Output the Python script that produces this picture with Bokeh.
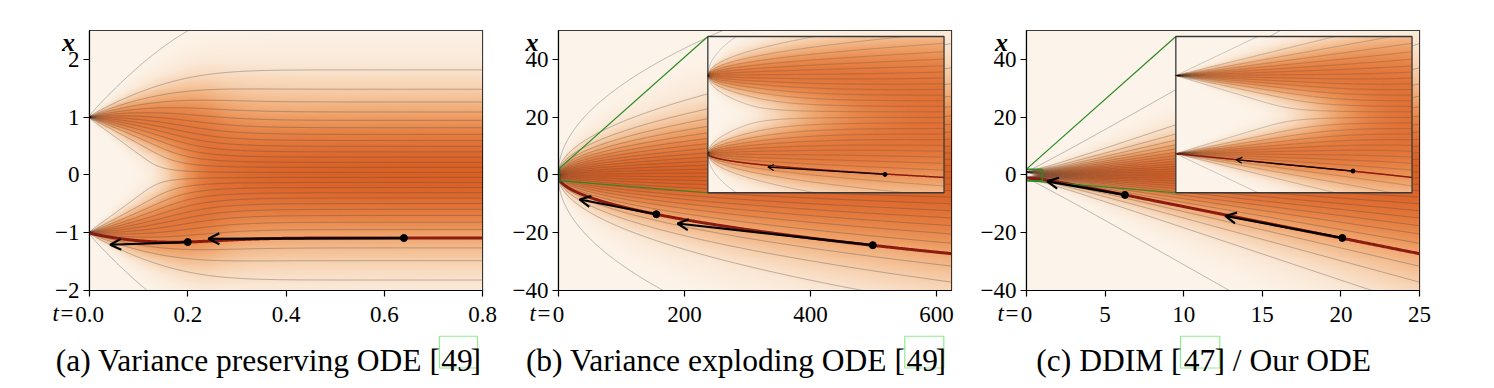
import numpy as np
from bokeh.plotting import figure
from bokeh.layouts import row, column
from bokeh.models import (Range1d, FixedTicker, LinearColorMapper, Label, Arrow,
                          OpenHead, ColumnDataSource)
from bokeh.core.properties import value
from bokeh.embed import file_html
from bokeh.resources import INLINE

# ---------------- data ----------------
# data distribution: two Dirac peaks
PEAKS = [-1.0, 1.0]
PEAK_WEIGHTS = [0.5, 0.5]
# probability levels of the drawn ODE trajectories
FLOW_LEVELS = [0.001, 0.0345, 0.0690, 0.1034, 0.1379, 0.1724, 0.2069, 0.2414, 0.2759,
               0.3103, 0.3448, 0.3793, 0.4138, 0.4483, 0.4828, 0.5172, 0.5517, 0.5862,
               0.6207, 0.6552, 0.6897, 0.7241, 0.7586, 0.7931, 0.8276, 0.8621, 0.8966,
               0.9310, 0.9655, 0.999]
HIGHLIGHT_LEVEL = 0.1379

# panel (a) VP
VP_T_RANGE = [0.0, 0.8]
VP_X_RANGE = [-2.0, 2.5]
VP_T_TICKS = [0.0, 0.2, 0.4, 0.6, 0.8]
VP_T_LABELS = ["0.0", "0.2", "0.4", "0.6", "0.8"]
VP_X_TICKS = [-2, -1, 0, 1, 2]
VP_X_LABELS = ["\u22122", "\u22121", "0", "1", "2"]
VP_DOT_T = [0.64, 0.20]
VP_DOT_X = [-1.092, -1.162]
VP_TIP_T = [0.242, 0.042]
VP_TIP_X = [-1.104, -1.208]

# panel (b) VE
VE_T_RANGE = [0.0, 624.0]
VE_X_RANGE = [-40.0, 50.0]
VE_T_TICKS = [0, 200, 400, 600]
VE_T_LABELS = ["0", "200", "400", "600"]
BIG_X_TICKS = [-40, -20, 0, 20, 40]
BIG_X_LABELS = ["\u221240", "\u221220", "0", "20", "40"]
VE_DOT_T = [499.0, 155.4]
VE_DOT_X = [-24.3, -13.6]
VE_TIP_T = [188.9, 33.4]
VE_TIP_X = [-16.8, -8.5]
VE_INSET_DOT_T = [0.75]
VE_INSET_DOT_X = [-1.53]
VE_INSET_TIP_T = [0.254]
VE_INSET_TIP_X = [-1.343]

# panel (c) DDIM
DD_T_RANGE = [0.0, 25.0]
DD_T_TICKS = [0, 5, 10, 15, 20, 25]
DD_T_LABELS = ["0", "5", "10", "15", "20", "25"]
DD_DOT_T = [20.09, 6.26]
DD_DOT_X = [-21.8, -6.9]
DD_TIP_T = [12.64, 1.32]
DD_TIP_X = [-14.2, -2.2]
DD_INSET_DOT_T = [0.75]
DD_INSET_DOT_X = [-1.445]
DD_INSET_TIP_T = [0.255]
DD_INSET_TIP_X = [-1.156]

# inset zoom window (data coords of the zoomed region)
INSET_T_RANGE = [0.0, 1.0]
INSET_X_RANGE = [-2.0, 2.0]

CAPTIONS = [("(a) Variance preserving ODE [", "49", "]"),
            ("(b) Variance exploding ODE [", "49", "]"),
            ("(c) DDIM [", "47", "] / Our ODE")]

# ---------------- styles ----------------
FONT = "Liberation Serif"
TICK_FS = "23px"
RED = "#8b1a10"
GREEN = "#2a8a22"
LINE_GRAY = "#505050"
NORM_GAMMA = 0.75

stops_v = [0.0, 0.15, 0.3, 0.45, 0.6, 0.75, 0.9, 1.0]
stops_c = [(252, 244, 234), (250, 232, 214), (247, 212, 180), (243, 186, 140),
           (238, 158, 100), (231, 131, 70), (224, 110, 50), (218, 96, 36)]
vv = np.linspace(0, 1, 256)
rr = np.interp(vv, stops_v, [c[0] for c in stops_c])
gg = np.interp(vv, stops_v, [c[1] for c in stops_c])
bb = np.interp(vv, stops_v, [c[2] for c in stops_c])
PALETTE = ["#%02x%02x%02x" % (int(round(a)), int(round(b)), int(round(c))) for a, b, c in zip(rr, gg, bb)]
CMAP = LinearColorMapper(palette=PALETTE, low=0.0, high=1.0)


# ---------------- model helpers ----------------
def sched(name, t):
    t = np.asarray(t, dtype=float)
    if name == "vp":
        sig = np.sqrt(np.expm1(0.5 * 19.9 * t ** 2 + 0.1 * t))
        sc = 1.0 / np.sqrt(1.0 + sig ** 2)
    elif name == "ve":
        sig = np.sqrt(t)
        sc = np.ones_like(t)
    else:
        sig = t.copy()
        sc = np.ones_like(t)
    return sig, sc


def erf(x):
    s = np.sign(x)
    a = np.abs(x)
    tt = 1.0 / (1.0 + 0.3275911 * a)
    y = 1.0 - (((((1.061405429 * tt - 1.453152027) * tt) + 1.421413741) * tt
                - 0.284496736) * tt + 0.254829592) * tt * np.exp(-a * a)
    return s * y


def phi(z):
    return 0.5 * (1.0 + erf(z / np.sqrt(2.0)))


def density(name, t0, t1, x0, x1, nt, nx):
    tc = t0 + (np.arange(nt) + 0.5) * (t1 - t0) / nt
    xc = x0 + (np.arange(nx) + 0.5) * (x1 - x0) / nx
    sig, sc = sched(name, tc)
    dx = (x1 - x0) / nx
    sd = np.sqrt((sig * sc) ** 2 + (0.5 * dx) ** 2)
    g = np.zeros((nx, nt))
    u = np.linspace(-1.6, 1.6, 1601)[:, None] * sc[None, :]
    gf = np.zeros((1601, nt))
    for mu, w in zip(PEAKS, PEAK_WEIGHTS):
        g += w * np.exp(-(xc[:, None] - sc[None, :] * mu) ** 2 / (2 * sd[None, :] ** 2))
        gf += w * np.exp(-(u - sc[None, :] * mu) ** 2 / (2 * sd[None, :] ** 2))
    return g / (gf.max(axis=0) ** NORM_GAMMA)[None, :]


def quantile_lines(name, t, levels):
    sig, sc = sched(name, t)
    sd = np.maximum(sig * sc, 1e-12)
    q = np.asarray(levels, dtype=float)[:, None]
    half = sc + 12 * sd + 1.0
    lo = np.tile(-half, (len(levels), 1))
    hi = np.tile(half, (len(levels), 1))
    for _ in range(80):
        mid = 0.5 * (lo + hi)
        F = np.zeros_like(mid)
        for mu, w in zip(PEAKS, PEAK_WEIGHTS):
            F += w * phi((mid - sc[None, :] * mu) / sd[None, :])
        below = F < q
        lo = np.where(below, mid, lo)
        hi = np.where(below, hi, mid)
    return 0.5 * (lo + hi)


def add_arrows(p, ts, xs, te, xe, lw, head):
    src = ColumnDataSource(dict(xs=ts, ys=xs, xe=te, ye=xe))
    p.add_layout(Arrow(end=OpenHead(size=head, line_width=lw, line_color="black"),
                       x_start="xs", y_start="ys", x_end="xe", y_end="ye",
                       line_width=lw, line_color="black", source=src))


def make_panel(name, trange, xrange_, tticks, tlabels, xticks, xlabels,
               dots, tips, inset, bl, br, x_off, first_half):
    p = figure(frame_width=393, frame_height=260,
               x_range=Range1d(*trange), y_range=Range1d(*xrange_),
               output_backend="svg", toolbar_location=None,
               min_border_left=bl, min_border_right=br, min_border_top=30,
               min_border_bottom=45, background_fill_color="white",
               border_fill_color="white")
    t0, t1 = trange
    x0, x1 = xrange_
    img = density(name, t0, t1, x0, x1, 420, 280)
    p.image(image=[img], x=t0, y=x0, dw=t1 - t0, dh=x1 - x0, color_mapper=CMAP)

    tg = t1 * np.linspace(0, 1, 700) ** 2
    X = quantile_lines(name, tg, FLOW_LEVELS)
    p.multi_line(xs=[tg] * len(FLOW_LEVELS), ys=list(X), line_color=LINE_GRAY,
                 line_alpha=0.37, line_width=1)
    Xr = quantile_lines(name, tg, [HIGHLIGHT_LEVEL])[0]
    p.line(tg, Xr, line_color=RED, line_width=3)
    add_arrows(p, dots[0], dots[1], tips[0], tips[1], 2.2, 11)
    p.scatter(dots[0], dots[1], size=7, color="black")

    if inset is not None:
        fx0, fx1, fy0, fy1, idots, itips = inset
        T0 = t0 + fx0 * (t1 - t0)
        T1 = t0 + fx1 * (t1 - t0)
        X0 = x0 + fy0 * (x1 - x0)
        X1 = x0 + fy1 * (x1 - x0)
        it0, it1 = INSET_T_RANGE
        ix0, ix1 = INSET_X_RANGE

        def tr_t(v):
            return T0 + (np.asarray(v) - it0) / (it1 - it0) * (T1 - T0)

        def tr_x(v):
            return X0 + (np.asarray(v) - ix0) / (ix1 - ix0) * (X1 - X0)

        # zoom box and connectors
        p.quad(left=[it0], right=[it1], bottom=[ix0], top=[ix1], fill_color=None,
               line_color=GREEN, line_width=1.5)
        p.segment(x0=[it0, it0], y0=[ix1, ix0], x1=[T0, T0], y1=[X1, X0],
                  line_color=GREEN, line_width=1.2)

        iimg = density(name, it0, it1, ix0, ix1, 300, 200)
        p.image(image=[iimg], x=T0, y=X0, dw=T1 - T0, dh=X1 - X0, color_mapper=CMAP)
        itg = it1 * np.linspace(0, 1, 800) ** 2
        IX = quantile_lines(name, itg, FLOW_LEVELS)
        IX = np.where((IX < ix0) | (IX > ix1), np.nan, IX)
        p.multi_line(xs=[tr_t(itg)] * len(FLOW_LEVELS), ys=[tr_x(r) for r in IX],
                     line_color=LINE_GRAY, line_alpha=0.37, line_width=0.8)
        IXr = quantile_lines(name, itg, [HIGHLIGHT_LEVEL])[0]
        IXr = np.where((IXr < ix0) | (IXr > ix1), np.nan, IXr)
        p.line(tr_t(itg), tr_x(IXr), line_color=RED, line_width=1.5)
        add_arrows(p, list(tr_t(idots[0])), list(tr_x(idots[1])),
                   list(tr_t(itips[0])), list(tr_x(itips[1])), 1.2, 6)
        p.scatter(list(tr_t(idots[0])), list(tr_x(idots[1])), size=4, color="black")
        p.quad(left=[T0], right=[T1], bottom=[X0], top=[X1], fill_color=None,
               line_color="#383838", line_width=1.3)

    p.xaxis.ticker = FixedTicker(ticks=tticks)
    p.xaxis.major_label_overrides = {k: v for k, v in zip(tticks, tlabels)}
    p.yaxis.ticker = FixedTicker(ticks=xticks)
    p.yaxis.major_label_overrides = {k: v for k, v in zip(xticks, xlabels)}
    for ax in (p.xaxis, p.yaxis):
        ax.major_tick_out = 6
        ax.major_tick_in = 0
        ax.minor_tick_out = 0
        ax.minor_tick_in = 0
        ax.axis_line_width = 1.2
        ax.axis_line_color = "black"
        ax.major_tick_line_width = 1.2
        ax.major_tick_line_color = "black"
        ax.major_label_text_font = FONT
        ax.major_label_text_font_size = TICK_FS
        ax.major_label_text_color = "black"
    p.xaxis.major_label_standoff = 10
    p.yaxis.major_label_standoff = 4
    p.xgrid.visible = False
    p.ygrid.visible = False
    p.outline_line_color = "black"
    p.outline_line_width = 1.2
    p.outline_line_alpha = 1.0

    # labels in side panels (not clipped to the frame)
    p.add_layout(Label(x=t0, y=x0, x_offset=-first_half, y_offset=-23, text="t=",
                       text_font=FONT, text_font_size=TICK_FS, text_font_style="italic",
                       text_color="black", text_align="right", text_baseline="alphabetic"),
                 "right")
    p.add_layout(Label(x=t0, y=x1, x_offset=x_off, y_offset=-12, text="x",
                       text_font=FONT, text_font_size="26px", text_font_style="bold italic",
                       text_color="black", text_align="right", text_baseline="alphabetic"),
                 "above")
    return p


INSET_FRAC = (0.380, 0.981, 0.376, 0.977)

pa = make_panel("vp", VP_T_RANGE, VP_X_RANGE, VP_T_TICKS, VP_T_LABELS, VP_X_TICKS, VP_X_LABELS,
                (VP_DOT_T, VP_DOT_X), (VP_TIP_T, VP_TIP_X), None, 89, 26, -14.5, 15)
pb = make_panel("ve", VE_T_RANGE, VE_X_RANGE, VE_T_TICKS, VE_T_LABELS, BIG_X_TICKS, BIG_X_LABELS,
                (VE_DOT_T, VE_DOT_X), (VE_TIP_T, VE_TIP_X),
                INSET_FRAC + ((VE_INSET_DOT_T, VE_INSET_DOT_X), (VE_INSET_TIP_T, VE_INSET_TIP_X)),
                50, 26, -20, 7)
pc = make_panel("ddim", DD_T_RANGE, VE_X_RANGE, DD_T_TICKS, DD_T_LABELS, BIG_X_TICKS, BIG_X_LABELS,
                (DD_DOT_T, DD_DOT_X), (DD_TIP_T, DD_TIP_X),
                INSET_FRAC + ((DD_INSET_DOT_T, DD_INSET_DOT_X), (DD_INSET_TIP_T, DD_INSET_TIP_X)),
                48, 26, -18.5, 7)

# ---------------- captions ----------------
CAP_H = 52
cap = figure(width=1486, height=CAP_H, x_range=Range1d(0, 1486), y_range=Range1d(0, CAP_H),
             output_backend="svg", toolbar_location=None, min_border=0,
             x_axis_type=None, y_axis_type=None, outline_line_color=None)
cap.xgrid.visible = False
cap.ygrid.visible = False
seg1_right = [440, 905, 1181]
cite_center = [456.5, 921.7, 1199]
seg3_left = [470, 935, 1214]
box_left = [439, 904.3, 1180]
box_right = [477, 943.3, 1219.3]
base_y = 27
cap.quad(left=box_left, right=box_right, bottom=[19.5] * 3, top=[51.3] * 3, fill_color=None,
         line_color="#8fec8f", line_width=1.2)
for xs_, idx, align in ((seg1_right, 0, "right"), (cite_center, 1, "center"), (seg3_left, 2, "left")):
    cap.text(x=xs_, y=[base_y] * 3, text=[c[idx] for c in CAPTIONS], text_font=value(FONT),
             text_font_size="31.5px", text_align=align, text_baseline="alphabetic",
             text_color="black")

layout = column(row(pa, pb, pc), cap)
open("out.html", "w").write(file_html(layout, INLINE))
